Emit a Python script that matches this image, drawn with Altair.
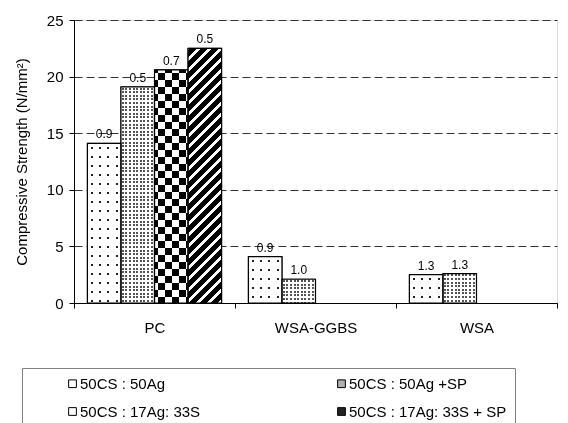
import altair as alt
import pandas as pd

# ---------------- data ----------------
categories = ["PC", "WSA-GGBS", "WSA"]
series = ["50CS : 50Ag", "50CS : 50Ag +SP", "50CS : 17Ag: 33S", "50CS : 17Ag: 33S + SP"]

pc_values = [14.1, 19.1, 20.6, 22.5]
pc_errors = ["0.9", "0.5", "0.7", "0.5"]
ggbs_values = [4.1, 2.1]
ggbs_errors = ["0.9", "1.0"]
wsa_values = [2.5, 2.6]
wsa_errors = ["1.3", "1.3"]

rows = []
for cat, vals, errs in [("PC", pc_values, pc_errors),
                        ("WSA-GGBS", ggbs_values, ggbs_errors),
                        ("WSA", wsa_values, wsa_errors)]:
    for s, v, e in zip(series, vals, errs):
        rows.append({"cat": cat, "series": s, "value": v, "err": e})
df = pd.DataFrame(rows)

# ---------------- geometry (for pattern periods only) ----------------
W, H = 483, 283
YMAX = 25
BAR_W = W / len(categories) / (len(series) + 0.8)
FONT = "Liberation Sans"


def band_stops(length, period, dark_len, dark, light):
    stops = []
    k = 0
    while k * period < length:
        s0 = k * period
        s1 = s0 + (period - dark_len) / 2
        s2 = s1 + dark_len
        s3 = s0 + period
        for a, b, col in [(s0, s1, light), (s1, s2, dark), (s2, s3, light)]:
            a = min(a / length, 1.0)
            b = min(b / length, 1.0)
            if b > a:
                stops.append({"offset": round(a, 5), "color": col})
                stops.append({"offset": round(b, 5), "color": col})
        k += 1
    return stops


def vgrad(h, period, dark_len, dark="#000000", light="#ffffff"):
    return {"gradient": "linear", "x1": 0, "y1": 0, "x2": 0, "y2": 1,
            "stops": band_stops(h, period, dark_len, dark, light)}


def hgrad(w, period, dark_len, dark="#000000", light="#ffffff"):
    return {"gradient": "linear", "x1": 0, "y1": 0, "x2": 1, "y2": 0,
            "stops": band_stops(w, period, dark_len, dark, light)}


def dgrad(w, h, period, dark_len, dark="#000000", light="#ffffff"):
    k = (w + h) / (w * w + h * h)
    return {"gradient": "linear", "x1": 0, "y1": 0, "x2": round(w * k, 5), "y2": round(h * k, 5),
            "stops": band_stops(w + h, period, dark_len, dark, light)}


x_enc = alt.X("cat:N", scale=alt.Scale(domain=categories, paddingInner=0, paddingOuter=0),
              axis=alt.Axis(title=None, labelAngle=0, tickBand="extent", labelPadding=12,
                            labelFontSize=15, tickSize=5, domainColor="black", tickColor="black",
                            labelColor="black", labelFont=FONT))
xo_enc = alt.XOffset("series:N", scale=alt.Scale(domain=series, paddingInner=0, paddingOuter=0.4))
y_enc = alt.Y("value:Q", scale=alt.Scale(domain=[0, YMAX], nice=False),
              axis=alt.Axis(title="Compressive Strength (N/mm²)", values=[0, 5, 10, 15, 20, 25],
                            grid=True, gridDash=[8, 4], gridColor="#333333", gridWidth=1,
                            tickSize=5, labelFontSize=15, titleFontSize=15, titleFontWeight="normal",
                            labelPadding=6, titlePadding=17, domainColor="black", tickColor="black",
                            labelColor="black", titleColor="black", labelFont=FONT, titleFont=FONT))

base = alt.Chart(df)

legend_layer = base.mark_bar(stroke="black", strokeWidth=1).encode(
    x=x_enc, xOffset=xo_enc, y=y_enc,
    fill=alt.Fill("series:N",
                  scale=alt.Scale(domain=series, range=["#ffffff", "#b0b0b0", "#ffffff", "#222222"]),
                  legend=alt.Legend(title=None, orient="none", legendX=-52, legendY=348, columns=2,
                                    direction="horizontal",
                                    symbolType="square", symbolSize=60, symbolStrokeColor="black",
                                    symbolStrokeWidth=1, labelFont=FONT, labelFontSize=15,
                                    labelColor="black", padding=8, rowPadding=12,
                                    columnPadding=98, symbolOffset=35, labelOffset=0,
                                    strokeColor="#808080", fillColor="white")),
)

layers = [legend_layer]
for _, r in df.iterrows():
    h = r["value"] / YMAX * H
    w = BAR_W
    sel = (alt.datum.cat == r["cat"]) & (alt.datum.series == r["series"])
    b = base.transform_filter(sel)
    idx = series.index(r["series"])
    if idx == 0:      # sparse dots
        layers.append(b.mark_bar(fill=vgrad(h, 9, 2, dark="#222222")).encode(x=x_enc, xOffset=xo_enc, y=y_enc))
        layers.append(b.mark_bar(fill=hgrad(w, 8.4, 2, dark="#222222"), blend="lighten").encode(x=x_enc, xOffset=xo_enc, y=y_enc))
    elif idx == 1:    # dense dots
        layers.append(b.mark_bar(fill=vgrad(h, 3.6, 2, dark="#555555")).encode(x=x_enc, xOffset=xo_enc, y=y_enc))
        layers.append(b.mark_bar(fill=hgrad(w, 3.6, 2, dark="#555555"), blend="lighten").encode(x=x_enc, xOffset=xo_enc, y=y_enc))
    elif idx == 2:    # checkerboard
        layers.append(b.mark_bar(fill=hgrad(w, 14, 7)).encode(x=x_enc, xOffset=xo_enc, y=y_enc))
        layers.append(b.mark_bar(fill=vgrad(h, 14, 7), blend="difference").encode(x=x_enc, xOffset=xo_enc, y=y_enc))
    else:             # diagonal stripes
        layers.append(b.mark_bar(fill=dgrad(w, h, 11, 7.5)).encode(x=x_enc, xOffset=xo_enc, y=y_enc))

outline = base.mark_bar(fillOpacity=0, stroke="black", strokeWidth=1.2).encode(x=x_enc, xOffset=xo_enc, y=y_enc)
labels = base.mark_text(baseline="bottom", dy=-2, fontSize=12, font=FONT, color="black").encode(
    x=x_enc, xOffset=xo_enc, y=y_enc, text="err:N")
layers += [outline, labels]

chart = alt.layer(*layers).properties(
    width=W, height=H,
    autosize=alt.AutoSizeParams(type="none"),
    padding={"left": 66, "top": 12, "right": 3, "bottom": 120},
).configure_view(stroke="black", strokeWidth=1).configure_legend(strokeWidth=2).configure(background="white")

chart.save("out.html", embed_options={"renderer": "svg", "actions": False})
